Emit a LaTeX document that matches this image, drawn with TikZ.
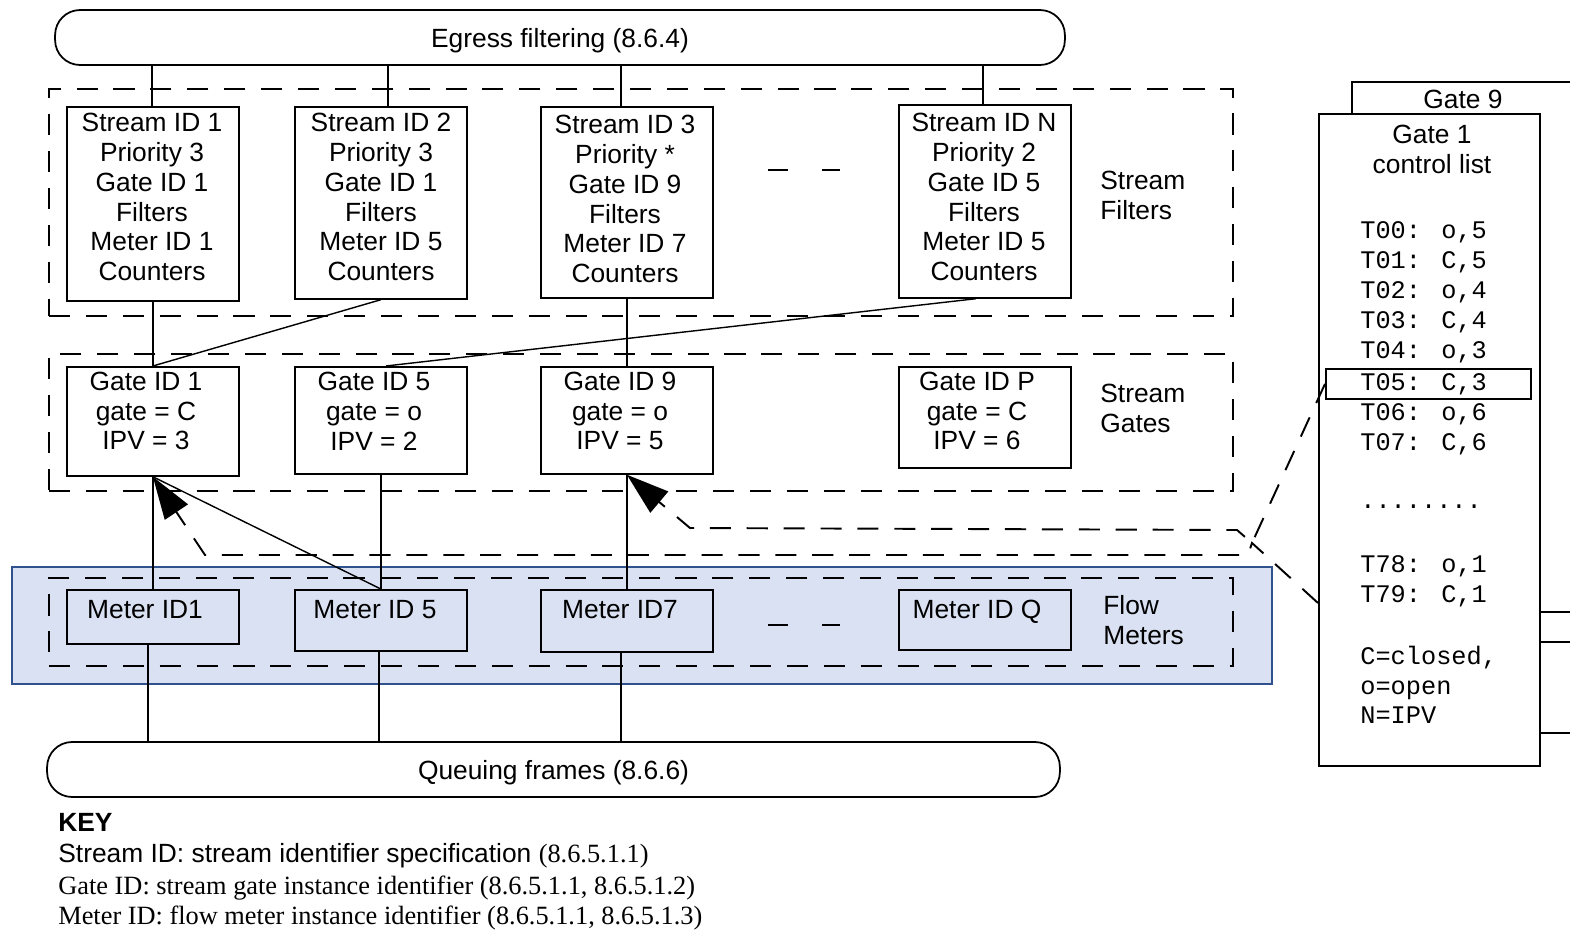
\documentclass[tikz,border=0pt]{standalone}
\usepackage{fontspec}
\setmainfont{Liberation Sans}
\newfontfamily\serifkey{Liberation Serif}
\newfontfamily\monolist{Liberation Mono}
\usetikzlibrary{arrows.meta,calc}
\definecolor{bluefill}{RGB}{217,225,242}
\definecolor{blueborder}{RGB}{47,82,143}
\begin{document}
\begin{tikzpicture}[x=0.02cm,y=-0.02cm,
  every node/.style={font=\fontsize{15}{17}\selectfont, text=black},
  box/.style={draw, line width=1pt, inner sep=0pt, anchor=north west},
  frame/.style={draw, line width=1.1pt, dash pattern=on 12pt off 9pt, inner sep=0pt, anchor=north west},
  conn/.style={line width=0.8pt},
  shortdash/.style={line width=1.1pt},
  dashline/.style={line width=1.1pt, dash pattern=on 12pt off 9pt},
  dasharrow/.style={line width=1.1pt, dash pattern=on 12pt off 9pt, -{Triangle[length=0.85cm,width=0.55cm]}},
  pill/.style={draw, line width=1pt, rounded corners=0.5cm, inner sep=0pt, text depth=0pt},
  txt/.style={align=center, inner sep=0pt},
  oneline/.style={inner sep=0pt, text height=11pt, text depth=0pt},
  side/.style={align=left, anchor=west, inner sep=0pt},
  mono/.style={font=\monolist\fontsize{14.4}{17}\selectfont, anchor=west, inner sep=0pt, text height=8.2pt, text depth=0pt},
  keyline/.style={anchor=base west, inner sep=0pt},
]
\useasboundingbox (0,0) rectangle (1570,930);
\clip (0,0) rectangle (1570,930);

% blue background of flow meters
\node[draw=blueborder, fill=bluefill, line width=1.2pt, inner sep=0pt, anchor=north west,
      minimum width=25.2cm, minimum height=2.34cm] (flowbg) at (11,566) {};

% dashed frames
\node[frame, minimum width=23.68cm, minimum height=4.54cm] (frameF) at (48,88) {};
\node[frame, minimum width=23.68cm, minimum height=2.74cm] (frameG) at (48,353) {};
\node[frame, minimum width=23.68cm, minimum height=1.76cm] (frameM) at (48,577) {};

% egress and queuing
\node[pill, minimum width=20.2cm, minimum height=1.1cm] (egress) at (560,37.5) {Egress filtering (8.6.4)};
\node[pill, minimum width=20.26cm, minimum height=1.1cm] (queue) at (553.5,769.5) {Queuing frames (8.6.6)};

% stream filter boxes
\node[box, minimum width=3.44cm, minimum height=3.88cm] (sid1) at (66,106) {};
\node[box, minimum width=3.44cm, minimum height=3.84cm] (sid2) at (294,106) {};
\node[box, minimum width=3.44cm, minimum height=3.82cm] (sid3) at (540,106) {};
\node[box, minimum width=3.44cm, minimum height=3.86cm] (sidN) at (898,104) {};
\node[txt] (tsid1) at (152,197) {Stream ID 1\\Priority 3\\Gate ID 1\\Filters\\Meter ID 1\\Counters};
\node[txt] (tsid2) at (381,197) {Stream ID 2\\Priority 3\\Gate ID 1\\Filters\\Meter ID 5\\Counters};
\node[txt] (tsid3) at (625,199) {Stream ID 3\\Priority *\\Gate ID 9\\Filters\\Meter ID 7\\Counters};
\node[txt] (tsidN) at (984,197) {Stream ID N\\Priority 2\\Gate ID 5\\Filters\\Meter ID 5\\Counters};

% gate boxes
\node[box, minimum width=3.44cm, minimum height=2.18cm] (g1) at (66,366) {};
\node[box, minimum width=3.44cm, minimum height=2.14cm] (g5) at (294,366) {};
\node[box, minimum width=3.44cm, minimum height=2.14cm] (g9) at (540,366) {};
\node[box, minimum width=3.44cm, minimum height=2.02cm] (gP) at (898,366) {};
\node[txt] (tg1) at (146,411) {Gate ID 1\\gate = C\\IPV = 3};
\node[txt] (tg5) at (374,411) {Gate ID 5\\gate = o\\IPV = 2};
\node[txt] (tg9) at (620,411) {Gate ID 9\\gate = o\\IPV = 5};
\node[txt] (tgP) at (977,411) {Gate ID P\\gate = C\\IPV = 6};

% meter boxes
\node[box, minimum width=3.44cm, minimum height=1.08cm] (m1) at (66,589) {};
\node[box, minimum width=3.44cm, minimum height=1.22cm] (m5) at (294,589) {};
\node[box, minimum width=3.44cm, minimum height=1.24cm] (m7) at (540,589) {};
\node[box, minimum width=3.44cm, minimum height=1.20cm] (mQ) at (898,589) {};
\node[oneline] (tm1) at (145,609) {Meter ID1};
\node[oneline] (tm5) at (375,609) {Meter ID 5};
\node[oneline] (tm7) at (620,609) {Meter ID7};
\node[oneline] (tmQ) at (977,609) {Meter ID Q};

% side labels
\node[side] (lblF) at (1100,195) {Stream\\Filters};
\node[side] (lblG) at (1100,408) {Stream\\Gates};
\node[side] (lblM) at (1103,620) {Flow\\Meters};

% ellipsis dashes
\draw[shortdash] (768,170) -- (788,170);
\draw[shortdash] (822,170) -- (840,170);
\draw[shortdash] (768,625) -- (788,625);
\draw[shortdash] (822,625) -- (840,625);

% egress to stream filters
\coordinate (e1) at ($(sid1.north)+(-1,0)$);
\coordinate (e2) at ($(sid2.north)+(7,0)$);
\coordinate (e3) at ($(sid3.north)+(-6,0)$);
\coordinate (e4) at ($(sidN.north)+(-2,0)$);
\foreach \c in {e1,e2,e3,e4} {\draw[conn] (\c) -- (\c |- egress.south);}

% stream filters to gates
\coordinate (sNb) at ($(sidN.south)+(-9,0)$);
\coordinate (g5t) at ($(g5.north)+(5,0)$);
\draw[conn] (sid1.south) -- (g1.north);
\draw[conn] (sid2.south) -- (g1.north);
\draw[conn] (sid3.south) -- (g9.north);
\draw[conn] (sNb) -- (g5t);

% gates to meters
\draw[conn] (g1.south) -- (m1.north);
\draw[conn] (g5.south) -- (m5.north);
\draw[conn] (g9.south) -- (m7.north);
\draw[conn] (m5.north) -- (g1.south);

% meters to queuing
\coordinate (q1) at ($(m1.south)+(-5,0)$);
\coordinate (q2) at ($(m5.south)+(-2,0)$);
\coordinate (q3) at ($(m7.south)+(-6,0)$);
\foreach \c in {q1,q2,q3} {\draw[conn] (\c) -- (\c |- queue.north);}

% control lists
\draw[line width=1pt] (1352,113) -- (1352,82) -- (1600,82);
\node[oneline] (g9title) at (1463,99) {Gate 9};
\node[box, fill=white, minimum width=4.42cm, minimum height=13.04cm] (glist) at (1318,113) {};
\draw[line width=1pt] (1539,612) -- (1600,612);
\draw[line width=1pt] (1539,642) -- (1600,642);
\draw[line width=1pt] (1539,733) -- (1600,733);
\node[txt] (gltitle) at (1432,149) {Gate 1\\control list};
\node[mono] (l00) at (1360,231) {T00: o,5};
\node[mono] (l01) at (1360,261) {T01: C,5};
\node[mono] (l02) at (1360,291) {T02: o,4};
\node[mono] (l03) at (1360,321) {T03: C,4};
\node[mono] (l04) at (1360,351) {T04: o,3};
\node[mono] (l05) at (1360,383) {T05: C,3};
\node[mono] (l06) at (1360,413) {T06: o,6};
\node[mono] (l07) at (1360,443) {T07: C,6};
\node[mono] (ldots) at (1360,501) {........};
\node[mono] (l78) at (1360,565) {T78: o,1};
\node[mono] (l79) at (1360,595) {T79: C,1};
\node[mono] (lc) at (1360,657) {C=closed,};
\node[mono] (lo) at (1360,687) {o=open};
\node[mono] (ln) at (1360,716) {N=IPV};
\node[box, minimum width=4.1cm, minimum height=0.6cm] (t05) at (1325,368) {};

% dashed arrows from control lists to gates
\coordinate (J) at (1252,543);
\coordinate (lw) at (1318,603);
\draw[dasharrow] (t05.west) -- (J) -- (1237,530) -- (690,528) -- (g9.south);
\draw[dasharrow] (lw) -- (J) -- (1248,555) -- (205,555) -- (g1.south);

% key
\node[keyline, font=\bfseries\fontsize{15}{17}\selectfont] (key) at (58,831) {KEY};
\node[keyline] (k1) at (58,862) {Stream ID: stream identifier specification {\serifkey (8.6.5.1.1)}};
\node[keyline, font=\serifkey\fontsize{15}{17}\selectfont] (k2) at (58,894) {Gate ID: stream gate instance identifier (8.6.5.1.1, 8.6.5.1.2)};
\node[keyline, font=\serifkey\fontsize{15}{17}\selectfont] (k3) at (58,924) {Meter ID: flow meter instance identifier (8.6.5.1.1, 8.6.5.1.3)};
\end{tikzpicture}
\end{document}
